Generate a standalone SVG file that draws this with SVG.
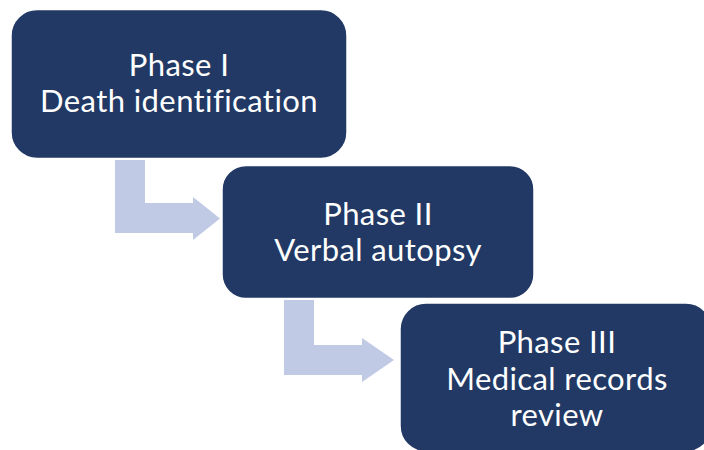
<svg xmlns="http://www.w3.org/2000/svg" width="704" height="450" viewBox="0 0 704 450">
<style>
.node{fill:#213964;stroke:#ffffff;stroke-width:1.5}
.arrow{fill:#C0CAE5;stroke:none}
.t{font-family:Lato,"Open Sans","Liberation Sans",sans-serif;font-size:31px;letter-spacing:0.4px;font-variant-ligatures:none;fill:#ffffff;text-anchor:middle}
</style>
<rect width="704" height="450" fill="#ffffff"/>
<g id="connectors">
<path class="arrow" d="M115,160 L145,160 L145,203 L193,203 L193,197 L220,218.5 L193,240 L193,233 L115,233 Z"/>
<path class="arrow" d="M284,300 L314,300 L314,345 L362,345 L362,338 L394,360 L362,382 L362,375 L284,375 Z"/>
</g>
<g id="node1">
<rect class="node" x="11" y="9.5" width="336" height="149" rx="26"/>
<text class="t" x="179" y="76">Phase I</text>
<text class="t" x="179" y="112">Death identification</text>
</g>
<g id="node2">
<rect class="node" x="222" y="165.5" width="312" height="133" rx="24"/>
<text class="t" x="378" y="225">Phase II</text>
<text class="t" x="378" y="261">Verbal autopsy</text>
</g>
<g id="node3">
<rect class="node" x="400" y="303" width="312" height="149" rx="26"/>
<text class="t" x="557" y="353">Phase III</text>
<text class="t" x="557" y="390">Medical records</text>
<text class="t" x="557" y="426">review</text>
</g>
</svg>
